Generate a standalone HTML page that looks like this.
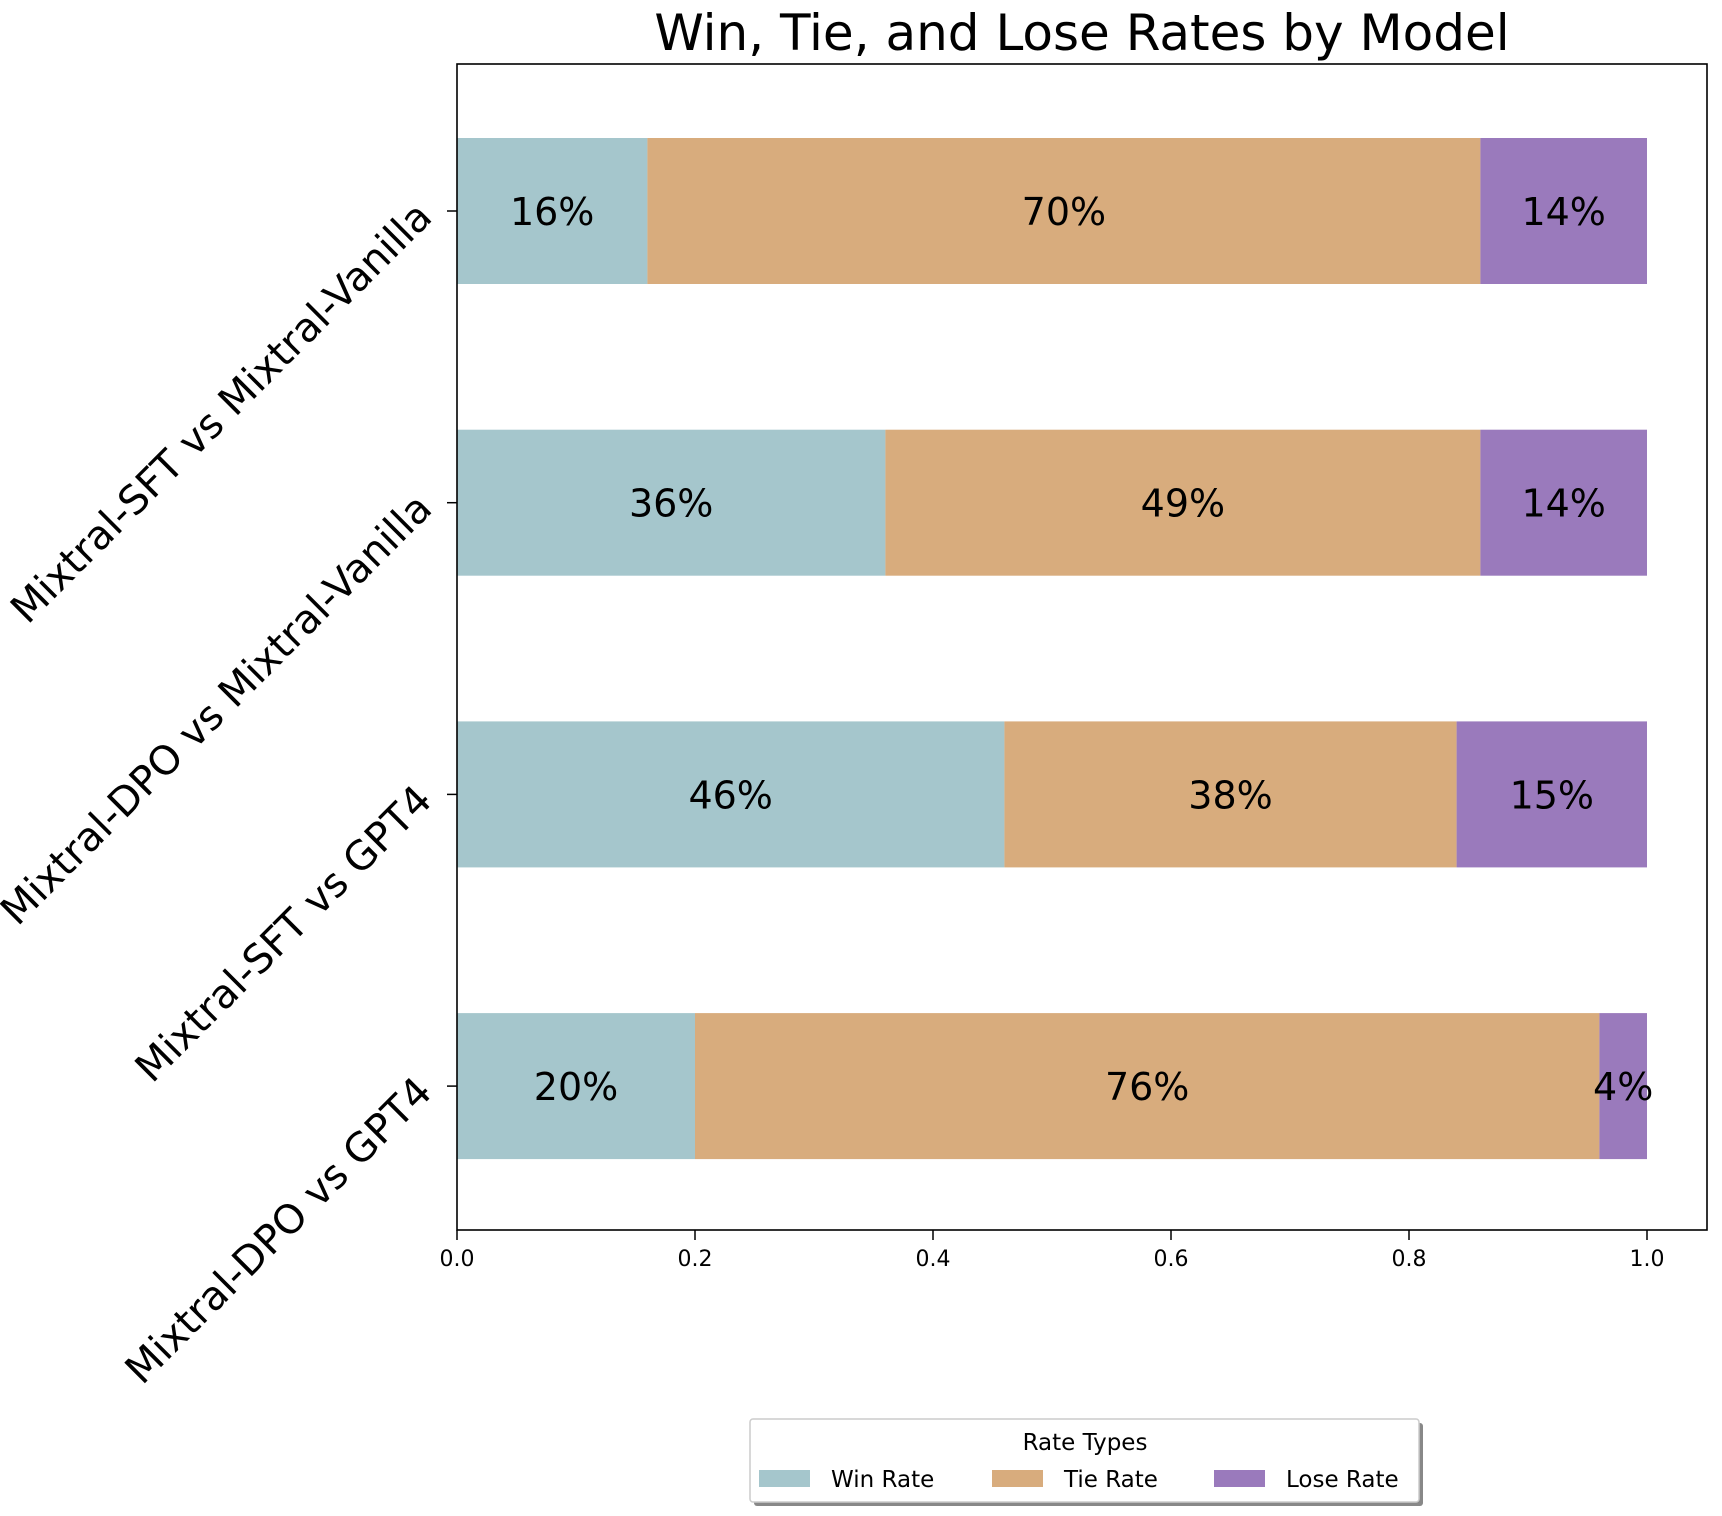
<!DOCTYPE html>
<html><head><meta charset="utf-8"><style>
html,body{margin:0;padding:0;background:#fff;}
svg{display:block;font-family:"DejaVu Sans","Liberation Sans",sans-serif;}
</style></head><body>
<svg id="chart" width="1722" height="1516" viewBox="0 0 1722 1516">
<text x="1082" y="50" font-size="50" text-anchor="middle">Win, Tie, and Lose Rates by Model</text>
<g id="bars"></g>
<g id="yaxis"></g>
<g id="xaxis"></g>
<rect x="457" y="64" width="1250" height="1166" fill="none" stroke="#000" stroke-width="1.6"/>
<g>
<rect x="754" y="1423" width="669" height="83" fill="#888" rx="3"/>
<rect x="750" y="1419" width="669" height="83" fill="#fff" stroke="#ccc" stroke-width="1.5" rx="3"/>
<text x="1085" y="1450" font-size="23" text-anchor="middle">Rate Types</text>
<g id="legend-items"></g>
</g>
</svg>
<script>
const categories = ["Mixtral-SFT vs Mixtral-Vanilla","Mixtral-DPO vs Mixtral-Vanilla","Mixtral-SFT vs GPT4","Mixtral-DPO vs GPT4"];
const winRates = [0.16, 0.36, 0.46, 0.20];
const tieRates = [0.70, 0.50, 0.38, 0.76];
const loseRates = [0.14, 0.14, 0.16, 0.04];
const winLabels = ["16%","36%","46%","20%"];
const tieLabels = ["70%","49%","38%","76%"];
const loseLabels = ["14%","14%","15%","4%"];
const xTicks = [0, 0.2, 0.4, 0.6, 0.8, 1.0];
const xTickLabels = ["0.0","0.2","0.4","0.6","0.8","1.0"];
const seriesNames = ["Win Rate","Tie Rate","Lose Rate"];
const colors = ["#a5c6cc","#d8ac7d","#9a7abc"];

const NS = "http://www.w3.org/2000/svg";
const x0 = 457, pxPerUnit = 1190;
function xs(v){ return x0 + v * pxPerUnit; }
function yc(i){ return 211 + i * 291.7; }
const barH = 146;
function mk(tag, attrs, parent){ const e = document.createElementNS(NS, tag); for (const k in attrs) e.setAttribute(k, attrs[k]); parent.appendChild(e); return e; }

const bars = document.getElementById('bars');
const series = [winRates, tieRates, loseRates];
const labels = [winLabels, tieLabels, loseLabels];
const segNames = ["win","tie","lose"];
categories.forEach((c, i) => {
  let left = 0;
  series.forEach((s, k) => {
    const v = s[i];
    const r = mk('rect', {x: xs(left), y: yc(i) - barH/2, width: v * pxPerUnit, height: barH, fill: colors[k]}, bars);
    
    
    const t = mk('text', {x: xs(left + v/2), y: yc(i) + 14, 'font-size': 38, 'text-anchor': 'middle'}, bars);
    t.textContent = labels[k][i];
    
    
    left += v;
  });
});

const yaxis = document.getElementById('yaxis');
categories.forEach((c, i) => {
  const tk = mk('line', {x1: 447, x2: 457, y1: yc(i), y2: yc(i), stroke: '#000', 'stroke-width': 1.5}, yaxis);
  
  
  const ax = 434, ay = yc(i) + 8;
  const t = mk('text', {x: ax, y: ay, 'font-size': 40, 'text-anchor': 'end', transform: 'rotate(-45 ' + ax + ' ' + ay + ')'}, yaxis);
  t.textContent = c;
  
  
});

const xaxis = document.getElementById('xaxis');
xTicks.forEach((v, j) => {
  const tk = mk('line', {x1: xs(v), x2: xs(v), y1: 1230, y2: 1240, stroke: '#000', 'stroke-width': 1.5}, xaxis);
  
  
  const t = mk('text', {x: xs(v), y: 1266, 'font-size': 22, 'text-anchor': 'middle'}, xaxis);
  t.textContent = xTickLabels[j];
  
  
});

const li = document.getElementById('legend-items');
const patchX = [759, 992, 1214];
seriesNames.forEach((n, k) => {
  const r = mk('rect', {x: patchX[k], y: 1470, width: 51, height: 17, fill: colors[k]}, li);
  
  
  const t = mk('text', {x: patchX[k] + 72, y: 1487, 'font-size': 23}, li);
  t.textContent = n;
  
  
});
</script>
</body></html>
